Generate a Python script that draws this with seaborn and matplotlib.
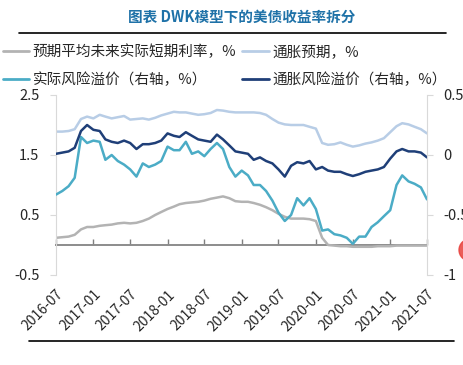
import matplotlib
matplotlib.use("Agg")
import matplotlib.pyplot as plt
import matplotlib.dates as mdates
from matplotlib.lines import Line2D
from matplotlib.patches import Ellipse
import seaborn as sns
import pandas as pd

# monthly readings, 2016-07 .. 2021-07
months = pd.date_range("2016-07-01", "2021-07-01", freq="MS")

real_short = [0.12, 0.13, 0.14, 0.17, 0.26, 0.30, 0.30, 0.32, 0.33, 0.34, 0.36, 0.37,
              0.36, 0.37, 0.40, 0.44, 0.50, 0.55, 0.60, 0.64, 0.68, 0.70, 0.71, 0.72,
              0.74, 0.77, 0.79, 0.81, 0.78, 0.73, 0.72, 0.72, 0.70, 0.67, 0.63, 0.58,
              0.52, 0.47, 0.44, 0.44, 0.44, 0.43, 0.40, 0.12, 0.00, -0.01, -0.02, -0.02,
              -0.03, -0.03, -0.03, -0.03, -0.02, -0.02, -0.02, -0.01, -0.01, -0.01, -0.01, -0.01,
              -0.01]
infl_exp = [1.89, 1.89, 1.90, 1.93, 2.10, 2.14, 2.11, 2.17, 2.14, 2.11, 2.13, 2.15,
            2.09, 2.10, 2.11, 2.09, 2.12, 2.16, 2.19, 2.22, 2.21, 2.21, 2.19, 2.17,
            2.18, 2.20, 2.25, 2.24, 2.22, 2.21, 2.21, 2.21, 2.21, 2.20, 2.17, 2.10,
            2.04, 2.01, 2.00, 2.00, 2.00, 1.97, 1.94, 1.70, 1.67, 1.68, 1.71, 1.67,
            1.64, 1.66, 1.69, 1.71, 1.74, 1.78, 1.88, 1.98, 2.03, 2.01, 1.97, 1.93,
            1.86]
real_rp = [-0.33, -0.30, -0.26, -0.19, 0.15, 0.10, 0.12, 0.11, -0.04, 0.00, -0.05, -0.08,
           -0.12, -0.18, -0.07, -0.10, -0.08, -0.05, 0.07, 0.04, 0.04, 0.11, 0.01, 0.03,
           -0.01, 0.05, 0.10, 0.05, -0.10, -0.18, -0.13, -0.17, -0.25, -0.25, -0.30, -0.38,
           -0.48, -0.55, -0.50, -0.36, -0.42, -0.36, -0.45, -0.63, -0.62, -0.66, -0.67, -0.69,
           -0.74, -0.68, -0.68, -0.60, -0.56, -0.51, -0.46, -0.25, -0.17, -0.22, -0.24, -0.27,
           -0.37]
infl_rp = [0.01, 0.02, 0.03, 0.06, 0.20, 0.25, 0.21, 0.20, 0.13, 0.11, 0.10, 0.12,
           0.10, 0.05, 0.09, 0.09, 0.10, 0.12, 0.18, 0.16, 0.15, 0.19, 0.16, 0.13,
           0.12, 0.11, 0.17, 0.13, 0.08, 0.03, 0.02, 0.01, -0.04, -0.02, -0.05, -0.07,
           -0.12, -0.18, -0.09, -0.06, -0.07, -0.05, -0.12, -0.10, -0.13, -0.14, -0.14, -0.16,
           -0.175, -0.16, -0.14, -0.13, -0.12, -0.10, -0.03, 0.03, 0.05, 0.03, 0.03, 0.02,
           -0.02]

labels = ["预期平均未来实际短期利率，%", "通胀预期，%",
          "实际风险溢价（右轴，%）", "通胀风险溢价（右轴，%）"]
colors = ["#b3b3b3", "#b8cde6", "#4bacc6", "#1f3f78"]

sns.set_style("white")
plt.rcParams["font.family"] = ["Noto Sans CJK SC", "DejaVu Sans"]

fig = plt.figure(figsize=(4.64, 3.65), dpi=100)
ax = fig.add_axes([56 / 464, 1 - 275 / 365, (427 - 56) / 464, 180 / 365])
ax2 = ax.twinx()

sns.lineplot(x=months, y=real_short, ax=ax, color=colors[0], lw=1.8)
sns.lineplot(x=months, y=infl_exp, ax=ax, color=colors[1], lw=1.8)
sns.lineplot(x=months, y=real_rp, ax=ax2, color=colors[2], lw=1.8)
sns.lineplot(x=months, y=infl_rp, ax=ax2, color=colors[3], lw=1.8)

ax.set_ylim(-0.5, 2.5)
ax.set_yticks([-0.5, 0.5, 1.5, 2.5])
ax.set_yticklabels(["-0.5", "0.5", "1.5", "2.5"])
ax2.set_ylim(-1, 0.5)
ax2.set_yticks([-1, -0.5, 0, 0.5])
ax2.set_yticklabels(["-1", "-0.5", "0", "0.5"])

ax.set_xlim(pd.Timestamp("2016-07-01"), pd.Timestamp("2021-07-01"))
ax.xaxis.set_major_locator(mdates.MonthLocator(bymonth=[1, 7]))
ax.xaxis.set_major_formatter(mdates.DateFormatter("%Y-%m"))
ax.tick_params(axis="x", length=0, pad=9, labelsize=10)
for t in ax.get_xticklabels():
    t.set_rotation(45)
    t.set_ha("right")
    t.set_rotation_mode("anchor")

for a in (ax, ax2):
    a.set_xlabel("")
    a.set_ylabel("")
    for s in a.spines.values():
        s.set_visible(False)
ax.spines["left"].set_visible(True)
ax.spines["left"].set_color("#d9d9d9")
ax2.spines["right"].set_visible(True)
ax2.spines["right"].set_color("#d9d9d9")
ax.tick_params(axis="y", left=True, length=4, color="#d9d9d9", labelsize=10.5, pad=8)
ax2.tick_params(axis="y", right=True, length=4, color="#d9d9d9", labelsize=10.5, pad=8)

# zero line with upward ticks
secax = ax.secondary_xaxis(1 / 6)
secax.xaxis.set_major_locator(mdates.MonthLocator(bymonth=[1, 7]))
secax.tick_params(axis="x", direction="in", length=4, width=1, color="#7f7f7f", labelbottom=False)
secax.spines["bottom"].set_color("#8c8c8c")
secax.spines["bottom"].set_linewidth(1.4)

# legend filled row by row
order = [0, 2, 1, 3]
handles = [Line2D([], [], color=colors[i], lw=2) for i in order]
fig.legend(handles, [labels[i] for i in order], loc="upper left", bbox_to_anchor=(0.0, 0.885),
           ncol=2, frameon=False, fontsize=10.5, handlelength=1.8, handletextpad=0.25,
           columnspacing=0.4, labelspacing=0.9, borderaxespad=0, borderpad=0.2)

fig.text(0.52, 0.953, "图表 DWK模型下的美债收益率拆分", ha="center", va="center",
         fontsize=10.5, fontweight="bold", color="#1f72a8")
fig.add_artist(Line2D([19 / 464, 446 / 464], [1 - 33 / 365] * 2, color="black", lw=1.2))
fig.add_artist(Line2D([29 / 464, 454 / 464], [1 - 341 / 365] * 2, color="black", lw=1.2))
fig.add_artist(Ellipse((470 / 464, 1 - 250 / 365), 22 / 464, 22 / 365,
                       color="#e8413c", alpha=0.85, transform=fig.transFigure))

fig.savefig("out.png", dpi=100)
